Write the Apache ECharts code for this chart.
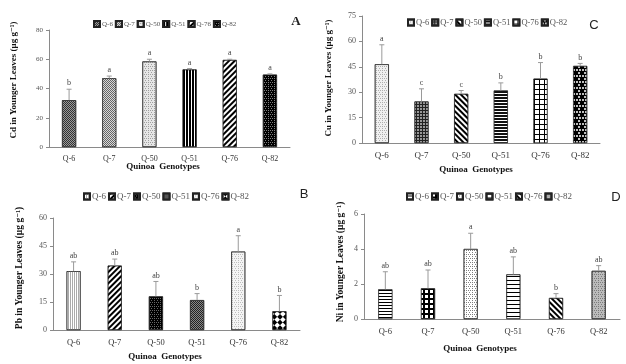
<!DOCTYPE html>
<html>
<head>
  <meta charset="utf-8">
</head>
<body style="margin:0;width:626px;height:364px;background:#fff">
  <div id="container" style="width:626px;height:364px"></div>
  <script src="https://cdn.jsdelivr.net/npm/echarts@6/dist/echarts.min.js"></script>
  <script>
    var genotypes = ['Q-6', 'Q-7', 'Q-50', 'Q-51', 'Q-76', 'Q-82'];

    // A - Cd
    var cdMean = [32, 47, 58.5, 53, 59.5, 49.5];
    var cdErr = [7.5, 1.5, 1.5, 0.6, 0.5, 0.5];
    var cdLetters = ['b', 'a', 'a', 'a', 'a', 'a'];
    var cdTicks = [0, 80, 20];
    // C - Cu
    var cuMean = [46.5, 24.5, 29, 31, 38, 45.5];
    var cuErr = [11.5, 7.5, 2, 4.5, 9.5, 1.5];
    var cuLetters = ['a', 'c', 'c', 'b', 'b', 'b'];
    var cuTicks = [0, 75, 15];
    // B - Pb
    var pbMean = [31.5, 34.5, 18, 16, 42, 10];
    var pbErr = [5, 3.5, 8, 3.5, 8.5, 8.5];
    var pbLetters = ['ab', 'ab', 'ab', 'b', 'a', 'b'];
    var pbTicks = [0, 60, 15];
    // D - Ni
    var niMean = [1.7, 1.75, 4.0, 2.55, 1.2, 2.75];
    var niErr = [1.0, 1.05, 0.9, 1.0, 0.25, 0.3];
    var niLetters = ['ab', 'ab', 'a', 'ab', 'b', 'ab'];
    var niTicks = [0, 6, 2];

    // fill patterns (decals)
    function stripes(bg, fg, w, gap, rot) {
      return { color: bg, decal: { symbol: 'rect', symbolSize: 1, color: fg, dashArrayX: [1, 0], dashArrayY: [w, gap], rotation: rot || 0 } };
    }
    function vstripes(bg, fg, w, gap) {
      return { color: bg, decal: { symbol: 'rect', symbolSize: 1, color: fg, dashArrayX: [w, gap], dashArrayY: [1, 0], rotation: 0 } };
    }
    function dots(bg, fg, s, gap, size) {
      return { color: bg, decal: { symbol: 'circle', symbolSize: size || 1, color: fg, dashArrayX: [[s, gap], [0, (s + gap) / 2, s, (s + gap) / 2]], dashArrayY: [s, gap * 0.5], rotation: 0 } };
    }
    function checker(bg, fg, s, rot) {
      return { color: bg, decal: { symbol: 'rect', symbolSize: 1, color: fg, dashArrayX: [[s, s], [0, s, s, 0]], dashArrayY: [s, 0], rotation: rot || 0 } };
    }
    function grid(bg, fg, s, gap) {
      return { color: bg, decal: { symbol: 'rect', symbolSize: 1, color: fg, dashArrayX: [s, gap], dashArrayY: [s, gap], rotation: 0 } };
    }

    var panels = [
      {
        key: 'A', mean: cdMean, err: cdErr, letters: cdLetters, ticks: cdTicks,
        grid: { left: 49, top: 30, width: 241, height: 117 },
        legend: { left: 88, top: 15, fontSize: 7 },
        yTitle: { text: 'Cd in Younger Leaves (µg g⁻¹)', x: 14, y: 80, size: 9 },
        xTitle: { x: 163, y: 167 },
        tag: { text: 'A', x: 296, y: 22, font: 'bold 13px "Liberation Serif"' },
        labelSize: 7, catSize: 8,
        fills: [
          checker('#333', '#9a9a9a', 1),
          checker('#666', '#d8d8d8', 1),
          dots('#e6e6e6', '#888', 1, 1),
          vstripes('#fff', '#000', 2, 1),
          stripes('#fff', '#000', 2, 2, -Math.PI / 4),
          dots('#000', '#aaa', 1, 1)
        ]
      },
      {
        key: 'C', mean: cuMean, err: cuErr, letters: cuLetters, ticks: cuTicks,
        grid: { left: 362, top: 16, width: 238, height: 127 },
        legend: { left: 402, top: 13, fontSize: 8.5 },
        yTitle: { text: 'Cu in Younger Leaves (µg g⁻¹)', x: 329, y: 78, size: 9 },
        xTitle: { x: 476, y: 170 },
        tag: { text: 'C', x: 594, y: 25, font: '13px "Liberation Sans"' },
        labelSize: 8, catSize: 9,
        fills: [
          dots('#f0f0f0', '#999', 1, 1),
          grid('#222', '#999', 2, 1),
          stripes('#fff', '#000', 2, 2, Math.PI / 4),
          stripes('#111', '#fff', 1, 1.5),
          grid('#000', '#fff', 4, 1),
          dots('#000', '#fff', 2, 1)
        ]
      },
      {
        key: 'B', mean: pbMean, err: pbErr, letters: pbLetters, ticks: pbTicks,
        grid: { left: 53, top: 218, width: 247, height: 112 },
        legend: { left: 78, top: 187, fontSize: 9 },
        yTitle: { text: 'Pb in Younger Leaves (µg g⁻¹)', x: 20, y: 268, size: 9.5 },
        xTitle: { x: 165, y: 357 },
        tag: { text: 'B', x: 304, y: 194, font: '13px "Liberation Sans"' },
        labelSize: 8, catSize: 8.5,
        fills: [
          vstripes('#fff', '#aaa', 1, 1),
          stripes('#fff', '#000', 2, 2, -Math.PI / 4),
          dots('#000', '#888', 1, 1),
          checker('#222', '#888', 1),
          dots('#f4f4f4', '#aaa', 1, 1),
          checker('#fff', '#000', 4, Math.PI / 4)
        ]
      },
      {
        key: 'D', mean: niMean, err: niErr, letters: niLetters, ticks: niTicks,
        grid: { left: 364, top: 214, width: 256, height: 105 },
        legend: { left: 401, top: 187, fontSize: 9 },
        yTitle: { text: 'Ni in Younger Leaves (µg g⁻¹)', x: 341, y: 262, size: 9.5 },
        xTitle: { x: 480, y: 349 },
        tag: { text: 'D', x: 616, y: 197, font: '13px "Liberation Sans"' },
        labelSize: 8, catSize: 8.5,
        fills: [
          stripes('#000', '#fff', 2, 1),
          grid('#000', '#fff', 3, 2),
          dots('#fff', '#555', 1, 1),
          stripes('#fff', '#000', 1, 3),
          stripes('#fff', '#000', 2, 2, Math.PI / 4),
          dots('#bbb', '#666', 1, 1)
        ]
      }
    ];

    var serif = '"Liberation Serif", "DejaVu Serif", serif';
    var option = {
      animation: false,
      backgroundColor: '#fff',
      grid: [], xAxis: [], yAxis: [], legend: [], series: [], graphic: []
    };

    panels.forEach(function (p, k) {
      option.grid.push(p.grid);
      option.xAxis.push({
        type: 'category', gridIndex: k, data: genotypes,
        axisLine: { lineStyle: { color: '#8a8a8a', width: 1 } },
        axisTick: { show: false },
        axisLabel: { color: '#333', fontFamily: serif, fontSize: p.catSize, margin: 8 }
      });
      option.yAxis.push({
        type: 'value', gridIndex: k, min: p.ticks[0], max: p.ticks[1], interval: p.ticks[2],
        splitLine: { show: false },
        axisLine: { show: true, lineStyle: { color: '#8a8a8a', width: 1 } },
        axisTick: { show: true, length: 3, lineStyle: { color: '#8a8a8a' } },
        axisLabel: { color: '#555', fontFamily: serif, fontSize: p.labelSize, margin: 6 }
      });
      option.legend.push({
        data: genotypes.map(function (g) { return p.key + '|' + g; }),
        left: p.legend.left, top: p.legend.top,
        icon: 'rect', itemWidth: 6, itemHeight: 6, itemGap: 2,
        selectedMode: false,
        formatter: function (n) { return n.split('|')[1]; },
        textStyle: { fontFamily: serif, fontSize: p.legend.fontSize, color: '#555', padding: [0, 0, 0, -3] }
      });
      genotypes.forEach(function (g, i) {
        var f = p.fills[i];
        option.series.push({
          name: p.key + '|' + g, type: 'bar', xAxisIndex: k, yAxisIndex: k,
          barWidth: 14, barGap: '-100%',
          data: genotypes.map(function (_, j) { return j === i ? p.mean[i] : '-'; }),
          itemStyle: { color: f.color, decal: f.decal, borderColor: '#222', borderWidth: 0.6 }
        });
      });
      option.series.push({
        type: 'custom', xAxisIndex: k, yAxisIndex: k, z: 5,
        data: p.mean.map(function (m, i) { return [i, m, m + p.err[i]]; }),
        encode: { x: 0, y: [1, 2] },
        renderItem: function (params, api) {
          var base = api.coord([api.value(0), api.value(1)]);
          var tip = api.coord([api.value(0), api.value(2)]);
          var c = '#9a9a9a';
          return {
            type: 'group', children: [
              { type: 'line', shape: { x1: tip[0], y1: base[1], x2: tip[0], y2: tip[1] }, style: { stroke: c, lineWidth: 1 } },
              { type: 'line', shape: { x1: tip[0] - 2.5, y1: tip[1], x2: tip[0] + 2.5, y2: tip[1] }, style: { stroke: c, lineWidth: 1 } },
              { type: 'text', style: { text: p.letters[params.dataIndex], x: tip[0], y: tip[1] - 2, align: 'center', verticalAlign: 'bottom', fill: '#444', font: '8px ' + serif } }
            ]
          };
        }
      });
      option.graphic.push(
        { type: 'text', x: p.yTitle.x, y: p.yTitle.y, rotation: Math.PI / 2,
          style: { text: p.yTitle.text, align: 'center', verticalAlign: 'middle', fill: '#111', font: 'bold ' + p.yTitle.size + 'px ' + serif } },
        { type: 'text', x: p.xTitle.x, y: p.xTitle.y,
          style: { text: 'Quinoa  Genotypes', align: 'center', verticalAlign: 'middle', fill: '#111', font: 'bold 9px ' + serif } },
        { type: 'text', x: p.tag.x, y: p.tag.y,
          style: { text: p.tag.text, align: 'center', verticalAlign: 'middle', fill: '#222', font: p.tag.font } }
      );
    });

    var chart = echarts.init(document.getElementById('container'), null, { renderer: 'canvas' });
    chart.setOption(option);
  </script>
</body>
</html>
